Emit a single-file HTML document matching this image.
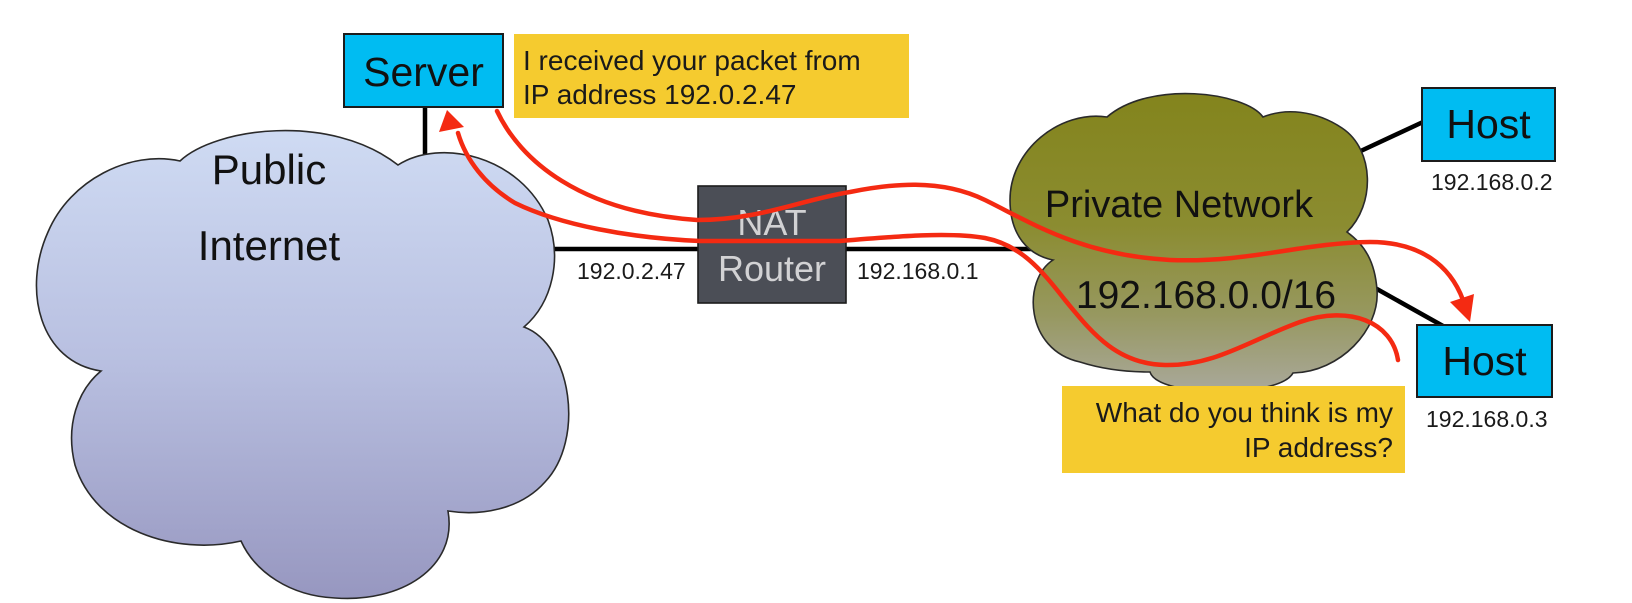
<!DOCTYPE html>
<html>
<head>
<meta charset="utf-8">
<style>
  html,body{margin:0;padding:0;background:#ffffff;}
  svg{display:block;}
  text{font-family:"Liberation Sans", Arial, sans-serif;}
</style>
</head>
<body>
<svg width="1632" height="603" viewBox="0 0 1632 603" xmlns="http://www.w3.org/2000/svg">
  <defs>
    <linearGradient id="pub" x1="0" y1="128" x2="0" y2="598" gradientUnits="userSpaceOnUse">
      <stop offset="0" stop-color="#cfdbf3"/>
      <stop offset="0.5" stop-color="#b8bfe0"/>
      <stop offset="1" stop-color="#9797c0"/>
    </linearGradient>
    <linearGradient id="priv" x1="0" y1="90" x2="0" y2="390" gradientUnits="userSpaceOnUse">
      <stop offset="0" stop-color="#83841c"/>
      <stop offset="0.45" stop-color="#8b8c30"/>
      <stop offset="0.75" stop-color="#979860"/>
      <stop offset="1" stop-color="#a9a89a"/>
    </linearGradient>
  </defs>

  <rect x="0" y="0" width="1632" height="603" fill="#ffffff"/>

  <!-- connecting lines -->
  <line x1="425" y1="106" x2="425" y2="160" stroke="#000" stroke-width="4.5"/>
  <line x1="550" y1="249" x2="1040" y2="249" stroke="#000" stroke-width="4.5"/>
  <line x1="1350" y1="156" x2="1423" y2="122" stroke="#000" stroke-width="4.5"/>
  <line x1="1368" y1="284" x2="1443" y2="326" stroke="#000" stroke-width="4.5"/>

  <!-- Public Internet cloud -->
  <path d="M101,371 C40,362 22,290 48,232 C70,180 130,150 180,161 C215,128 330,112 398,165 C440,138 520,155 548,220 C562,258 553,302 524,327 C572,345 585,440 545,482 C520,510 480,516 448,511 C458,568 400,603 335,598 C290,596 255,572 241,541 C175,556 95,530 75,465 C65,425 78,390 101,371 Z"
        fill="url(#pub)" stroke="#2a2a2a" stroke-width="1.6"/>
  <text x="269" y="184" font-size="42" text-anchor="middle" fill="#111">Public</text>
  <text x="269" y="260" font-size="42" text-anchor="middle" fill="#111">Internet</text>

  <!-- Private network cloud -->
  <path d="M1053,260 C1022,280 1025,350 1080,362 C1105,370 1130,372 1150,372 C1158,398 1280,398 1293,373 C1340,372 1380,330 1377,290 C1375,262 1365,245 1347,232 C1375,205 1375,150 1342,128 C1315,110 1285,108 1263,117 C1245,92 1150,80 1107,117 C1060,110 1010,150 1010,200 C1010,235 1028,255 1053,260 Z"
        fill="url(#priv)" stroke="#2a2a2a" stroke-width="1.6"/>
  <text x="1179" y="217" font-size="38" text-anchor="middle" fill="#111">Private Network</text>
  <text x="1206" y="308" font-size="39" text-anchor="middle" fill="#111">192.168.0.0/16</text>

  <!-- Server -->
  <rect x="344" y="34" width="159" height="73" fill="#00bcf2" stroke="#1c1c1c" stroke-width="2"/>
  <text x="423.5" y="86" font-size="41" text-anchor="middle" fill="#111">Server</text>

  <!-- Yellow note 1 -->
  <rect x="514" y="34" width="395" height="84" fill="#f5cb2f"/>
  <text x="523" y="70" font-size="28" fill="#1a1a1a">I received your packet from</text>
  <text x="523" y="104" font-size="28" fill="#1a1a1a">IP address 192.0.2.47</text>

  <!-- NAT Router -->
  <rect x="698" y="186" width="148" height="117" fill="#4b4e56" stroke="#1c1c1c" stroke-width="1.6"/>
  <text x="772" y="235" font-size="36" text-anchor="middle" fill="#d2d2d4">NAT</text>
  <text x="772" y="281" font-size="36" text-anchor="middle" fill="#d2d2d4">Router</text>

  <text x="577" y="279" font-size="23" fill="#1a1a1a">192.0.2.47</text>
  <text x="857" y="279" font-size="23" fill="#1a1a1a">192.168.0.1</text>

  <!-- Hosts -->
  <rect x="1422" y="88" width="133" height="73" fill="#00bcf2" stroke="#1c1c1c" stroke-width="2"/>
  <text x="1488.5" y="138" font-size="41" text-anchor="middle" fill="#111">Host</text>
  <text x="1431" y="190" font-size="23" fill="#1a1a1a">192.168.0.2</text>

  <rect x="1417" y="325" width="135" height="72" fill="#00bcf2" stroke="#1c1c1c" stroke-width="2"/>
  <text x="1484.5" y="375" font-size="41" text-anchor="middle" fill="#111">Host</text>
  <text x="1426" y="427" font-size="23" fill="#1a1a1a">192.168.0.3</text>

  <!-- Yellow note 2 -->
  <rect x="1062" y="386" width="343" height="87" fill="#f5cb2f"/>
  <text x="1393" y="422" font-size="28" text-anchor="end" fill="#1a1a1a">What do you think is my</text>
  <text x="1393" y="457" font-size="28" text-anchor="end" fill="#1a1a1a">IP address?</text>

  <!-- Red curve A: server -> host (arrow at host) -->
  <path d="M497,111 C520,160 580,212 697,220 C760,220 800,200 850,192 C890,184 940,178 985,200 C1030,222 1080,255 1170,260 C1250,263 1300,243 1370,242 C1420,242 1450,265 1463,300"
        fill="none" stroke="#f42a12" stroke-width="4.5" stroke-linecap="round"/>
  <polygon points="1470,322 1450,302 1474,294" fill="#f42a12"/>

  <!-- Red curve B: host -> server (arrow at server) -->
  <path d="M1398,360 C1392,322 1350,305 1300,322 C1250,340 1215,366 1165,365 C1115,364 1090,330 1065,300 C1040,268 1020,245 985,238 C950,232 900,236 840,241 L700,241 C630,238 560,225 515,203 C485,185 466,160 458,133"
        fill="none" stroke="#f42a12" stroke-width="4.5" stroke-linecap="round"/>
  <polygon points="447,110 439,132 464,127" fill="#f42a12"/>
</svg>
</body>
</html>
